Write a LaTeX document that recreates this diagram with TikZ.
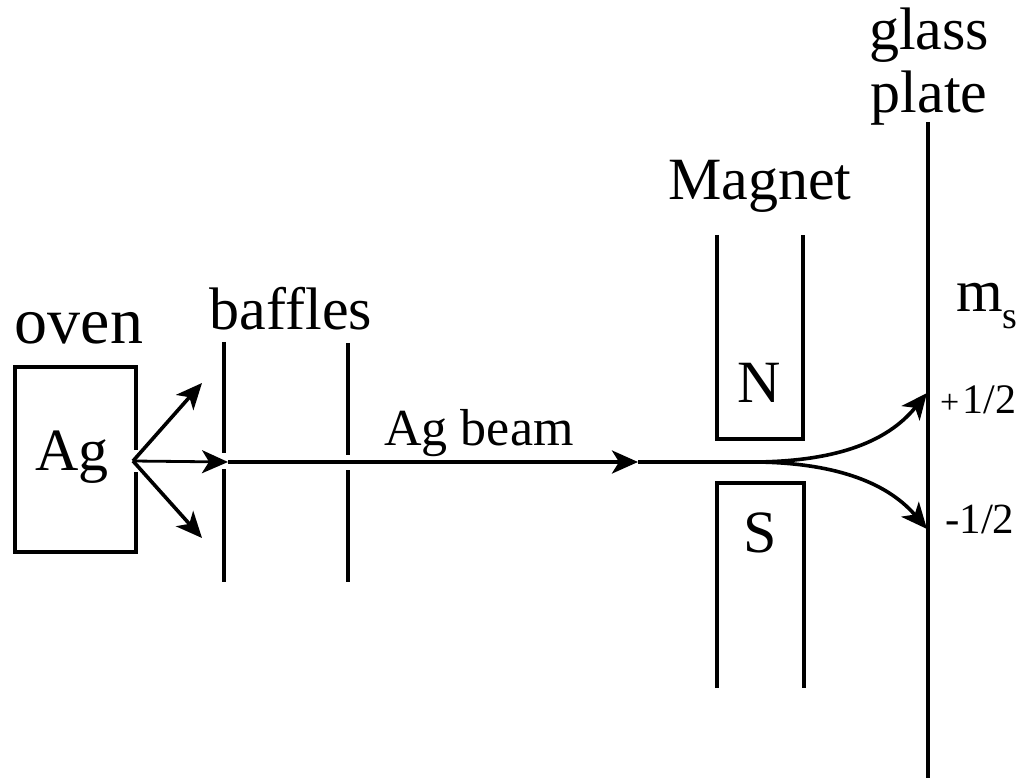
\documentclass[tikz,border=0pt]{standalone}
\usepackage{fontspec}
\setmainfont{Liberation Serif}
\usetikzlibrary{arrows.meta}
\tikzset{
 ln/.style={line width=3.6pt,black},
 thinln/.style={line width=3.3pt,black},
 arr/.style={ln,-{Stealth[length=26pt,width=23pt,inset=7pt]}},
 lbl/.style={inner sep=0pt,anchor=base,text=black},
 big/.style={lbl,font=\fontsize{60}{60}\selectfont},
 med/.style={lbl,font=\fontsize{52}{52}\selectfont},
 sml/.style={lbl,font=\fontsize{43}{43}\selectfont},
}
\begin{document}
\begin{tikzpicture}[x=1pt,y=-1pt]
\useasboundingbox (0,0) rectangle (1021,778);
\coordinate (ovenTR) at (136,367);
\coordinate (ovenGa) at (136,450);
\coordinate (ovenGb) at (136,472);
\coordinate (ovenTL) at (15,367);
\coordinate (ovenBL) at (15,552);
\coordinate (ovenBR) at (136,552);
\draw[thinln] (ovenGa) -- (ovenTR) -- (ovenTL) -- (ovenBL) -- (ovenBR) -- (ovenGb);
\node[lbl,font=\fontsize{66}{66}\selectfont] (oven) at (79,344) {oven};
\node[big] (ag) at (72,470) {Ag};
\node[big] (baffles) at (291,330) {baffles};
\coordinate (src) at (133,461);
\coordinate (up) at (202,383);
\coordinate (dn) at (202,538);
\coordinate (mid) at (228,462);
\draw[arr] (src) -- (up);
\draw[arr] (src) -- (dn);
\draw[arr,line width=2.8pt] (src) -- (mid);
\coordinate (b1a) at (224,342); \coordinate (b1b) at (224,453);
\coordinate (b1c) at (224,469); \coordinate (b1d) at (224,582);
\draw[thinln] (b1a) -- (b1b); \draw[thinln] (b1c) -- (b1d);
\coordinate (b2a) at (348,343); \coordinate (b2b) at (348,455);
\coordinate (b2c) at (348,470); \coordinate (b2d) at (348,582);
\draw[thinln] (b2a) -- (b2b); \draw[thinln] (b2c) -- (b2d);
\coordinate (bm) at (638,462);
\draw[arr] (mid) -- (bm);
\coordinate (bend) at (757,462);
\draw[ln] (bm) -- (bend);
\node[med] (beam) at (479,445) {Ag beam};
\coordinate (n1) at (717,235); \coordinate (n2) at (717,439);
\coordinate (n3) at (803,439); \coordinate (n4) at (803,235);
\draw[thinln] (n1) -- (n2) -- (n3) -- (n4);
\coordinate (s1) at (717,688); \coordinate (s2) at (717,483);
\coordinate (s3) at (804,483); \coordinate (s4) at (804,688);
\draw[thinln] (s1) -- (s2) -- (s3) -- (s4);
\node[big] (N) at (759,402) {N};
\node[big] (S) at (760,552) {S};
\node[big] (mag) at (760,200) {Magnet};
\node[big] (g1) at (929,50) {glass};
\node[big] (g2) at (929,113) {plate};
\coordinate (pt) at (928,122); \coordinate (pb) at (928,778);
\draw[ln] (pt) -- (pb);
\coordinate (pp) at (927,393); \coordinate (pm) at (927,529);
\draw[arr] (bend) .. controls (830,461) and (885,445) .. (pp);
\draw[arr] (bend) .. controls (830,463) and (885,480) .. (pm);
\node[big,anchor=base west] (ms) at (956,312) {m\raisebox{-17pt}{\fontsize{38}{38}\selectfont s}};
\node[sml,anchor=base west] (p) at (940,413) {{\fontsize{34}{34}\selectfont +}\kern3pt\fontsize{42}{42}\selectfont 1/2};
\node[sml,anchor=base west] (m) at (945,533) {-1/2};
\end{tikzpicture}
\end{document}
